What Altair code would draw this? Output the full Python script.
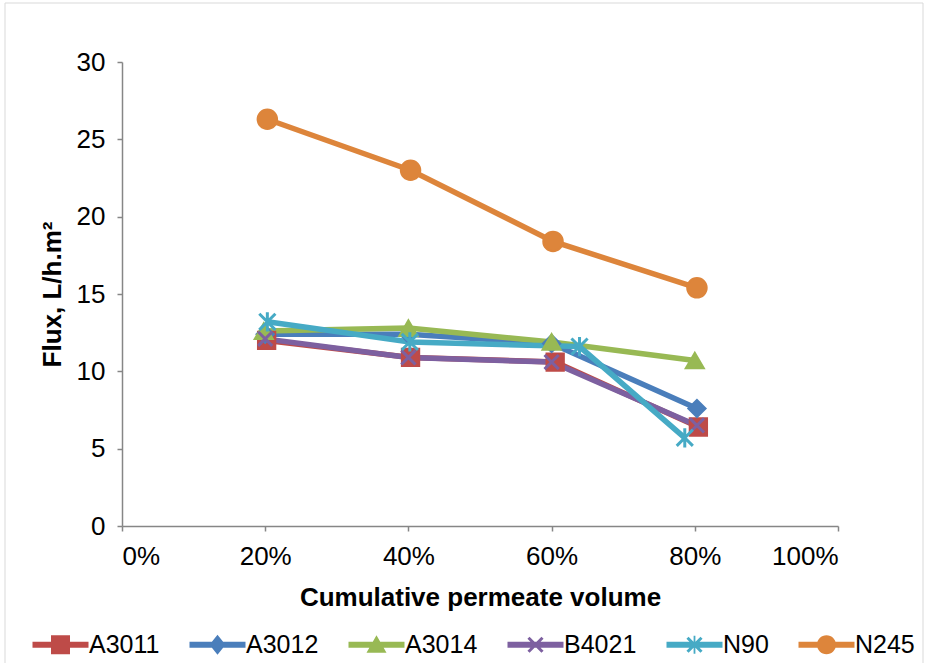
import altair as alt
import pandas as pd

# ---- data ----
series = ["A3011", "A3012", "A3014", "B4021", "N90", "N245"]
colors = ["#BE4B48", "#4A7EBB", "#98B954", "#7D60A0", "#46AAC5", "#DD853B"]

vol_A3011 = [0.202, 0.403, 0.605, 0.805]
flux_A3011 = [12.0, 10.9, 10.6, 6.4]
vol_A3012 = [0.200, 0.400, 0.600, 0.803]
flux_A3012 = [12.4, 12.4, 11.8, 7.6]
vol_A3014 = [0.198, 0.400, 0.600, 0.800]
flux_A3014 = [12.6, 12.8, 11.9, 10.7]
vol_B4021 = [0.200, 0.400, 0.600, 0.803]
flux_B4021 = [12.1, 10.9, 10.6, 6.5]
vol_N90 = [0.203, 0.402, 0.639, 0.786]
flux_N90 = [13.2, 11.9, 11.6, 5.7]
vol_N245 = [0.203, 0.403, 0.602, 0.803]
flux_N245 = [26.3, 23.0, 18.4, 15.4]

x_ticks = [0, 0.2, 0.4, 0.6, 0.8, 1.0]
y_ticks = [0, 5, 10, 15, 20, 25, 30]

vols = [vol_A3011, vol_A3012, vol_A3014, vol_B4021, vol_N90, vol_N245]
fluxes = [flux_A3011, flux_A3012, flux_A3014, flux_B4021, flux_N90, flux_N245]

rows = []
for s, v, f in zip(series, vols, fluxes):
    for a, b in zip(v, f):
        rows.append({"series": s, "volume": a, "flux": b})
df = pd.DataFrame(rows)

# plot marker shapes
plot_shapes = {
    "A3011": ("square", 300, 2),
    "A3012": ("diamond", 300, 2),
    "A3014": ("triangle-up", 330, 2),
    "B4021": ("M-1,-1L1,1M-1,1L1,-1", 200, 3),
    "N90": ("M-1,-1L1,1M-1,1L1,-1M0,-1.2L0,1.2", 260, 3),
    "N245": ("circle", 380, 2),
}

# legend symbols: line segment + marker drawn as filled paths
LINE = "M-2.8,-0.3H2.8V0.3H-2.8Z"
XBARS = ("M-0.594,-0.806L0.806,0.594L0.594,0.806L-0.806,-0.594Z"
         "M0.594,-0.806L0.806,-0.594L-0.594,0.806L-0.806,0.594Z")
legend_paths = [
    LINE + "M-0.95,-0.95H0.95V0.95H-0.95Z",
    LINE + "M0,-1L0.8,0L0,1L-0.8,0Z",
    LINE + "M0,-0.95L1,0.8L-1,0.8Z",
    LINE + XBARS,
    LINE + XBARS + "M-0.09,-0.9H0.09V0.9H-0.09Z",
    LINE + "M-0.95,0A0.95,0.95 0 1,1 0.95,0A0.95,0.95 0 1,1 -0.95,0Z",
]

FONT = "Liberation Sans"
AXIS_GRAY = "#868686"

x_enc = alt.X(
    "volume:Q",
    scale=alt.Scale(domain=[0, 1], nice=False, zero=True),
    axis=alt.Axis(
        values=x_ticks, format=".0%", title="Cumulative permeate volume",
        grid=False, domainColor=AXIS_GRAY, domainWidth=1.5,
        tickColor=AXIS_GRAY, tickWidth=1.5, tickSize=5,
        labelFont=FONT, labelFontSize=26, labelColor="#000000", labelPadding=12,
        titleFont=FONT, titleFontSize=26, titleFontWeight="bold", titleColor="#000000",
        titleBaseline="alphabetic", titleY=79,
    ),
)
y_enc = alt.Y(
    "flux:Q",
    scale=alt.Scale(domain=[0, 30], nice=False),
    axis=alt.Axis(
        values=y_ticks, title="Flux, L/h.m²",
        grid=False, domainColor=AXIS_GRAY, domainWidth=1.5,
        tickColor=AXIS_GRAY, tickWidth=1.5, tickSize=5,
        labelFont=FONT, labelFontSize=26, labelColor="#000000", labelPadding=12,
        titleFont=FONT, titleFontSize=26, titleFontWeight="bold", titleColor="#000000",
        titleBaseline="alphabetic", titleX=-62, titleY=232, titleAngle=270,
        titleAlign="center",
    ),
)

base = alt.Chart(df)

frame = alt.Chart(pd.DataFrame({"f": [0]})).mark_rect(
    fill="transparent", stroke="#D9D9D9", strokeWidth=1
).encode(
    x=alt.value(-117), x2=alt.value(801), y=alt.value(-59), y2=alt.value(606)
)

leg = alt.Legend(
    title=None, orient="none", legendX=-74, legendY=570, direction="horizontal",
    labelFont=FONT, labelFontSize=25, labelColor="#000000", labelOffset=16,
    columnPadding=29, symbolSize=400, symbolStrokeWidth=0, symbolOpacity=1,
    padding=0,
)

legend_layer = base.mark_point(filled=True, opacity=0, size=400).encode(
    x=x_enc, y=y_enc,
    fill=alt.Fill("series:N", scale=alt.Scale(domain=series, range=colors), legend=leg),
    shape=alt.Shape("series:N", scale=alt.Scale(domain=series, range=legend_paths), legend=leg),
)

layers = [frame, legend_layer]
for s, c in zip(series, colors):
    sub = base.transform_filter(alt.datum.series == s)
    layers.append(sub.mark_line(color=c, strokeWidth=5.5).encode(x=x_enc, y=y_enc))
for s, c in zip(series, colors):
    shp, sz, sw = plot_shapes[s]
    sub = base.transform_filter(alt.datum.series == s)
    layers.append(
        sub.mark_point(shape=shp, size=sz, filled=True, fill=c, stroke=c,
                       strokeWidth=sw, opacity=1).encode(x=x_enc, y=y_enc)
    )

chart = alt.layer(*layers).properties(
    width=716, height=464,
    autosize=alt.AutoSizeParams(type="none"),
    padding={"left": 122, "top": 62, "right": 88, "bottom": 137},
    background="white",
).configure_view(stroke=None)

chart.save("out.html", embed_options={"renderer": "svg", "actions": False})
